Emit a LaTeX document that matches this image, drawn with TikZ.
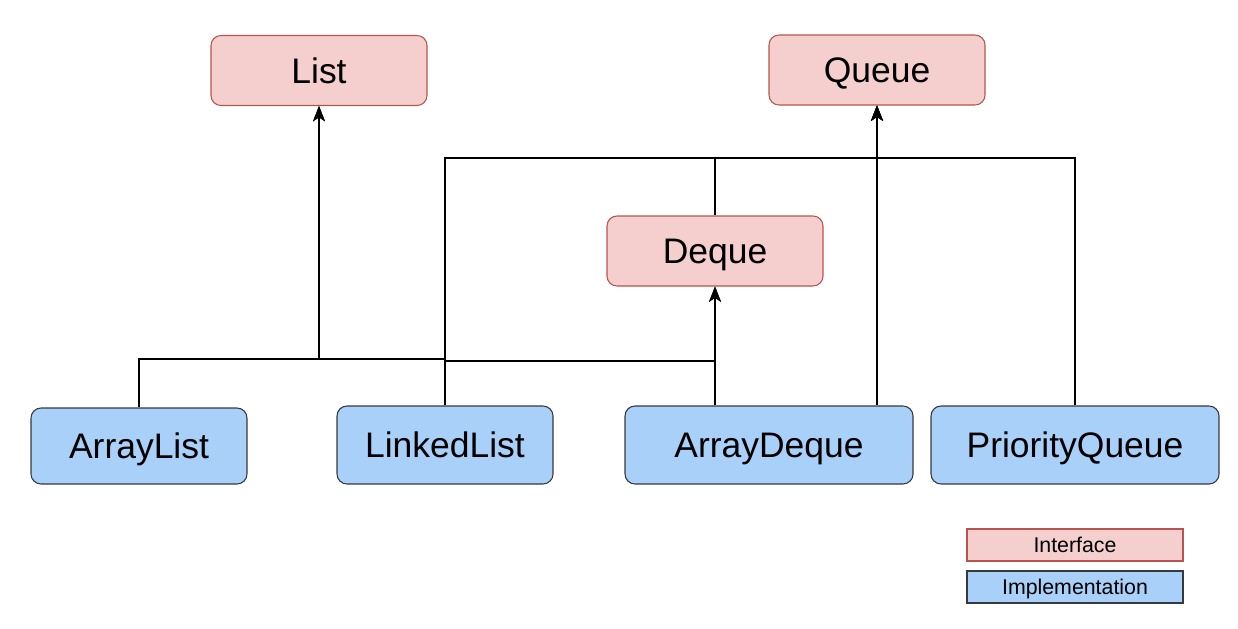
\documentclass[tikz,border=0pt]{standalone}
\usepackage{fontspec}
\setmainfont{Liberation Sans}
\usetikzlibrary{
    arrows.meta,
    positioning,
    calc
}
\definecolor{ifill}{HTML}{F4CFCD}
\definecolor{idraw}{HTML}{B85450}
\definecolor{cfill}{HTML}{A9D0F8}
\definecolor{cdraw}{HTML}{36393D}

\begin{document}
\begin{tikzpicture}[
    x=0.75pt, y=-0.75pt,
    >={Stealth[length=11.5pt, width=9pt, inset=3pt]},
    iface/.style={rectangle, rounded corners=7.5pt, draw=idraw, fill=ifill,
                  line width=0.8pt, inner sep=0pt,
                  minimum width=162pt, minimum height=52.5pt,
                  text height=19pt, text depth=0pt,
                  font=\fontsize{26.6}{30}\selectfont},
    impl/.style={iface, draw=cdraw, fill=cfill, minimum height=58.5pt},
    wide/.style={minimum width=216pt},
    legend/.style={rectangle, line width=0.8pt, inner sep=0pt,
                   minimum width=162pt, minimum height=24pt,
                   text height=11.5pt, text depth=0pt,
                   font=\fontsize{16}{19}\selectfont},
    link/.style={->, line width=1pt}
]
\useasboundingbox (0,0) rectangle (1238,628);

% =========================
% 1) INTERFACES
% =========================
\node[iface] (List)  at (319,70.5) {List};
\node[iface] (Queue) at (877,70)   {Queue};
\node[iface] (Deque) at (715,251)  {Deque};

% =========================
% 2) IMPLEMENTATIONS
% =========================
\node[impl, minimum height=57pt] (ArrayList) at (139,446) {ArrayList};
\node[impl] (LinkedList)          at (445,445)  {LinkedList};
\node[impl, wide] (ArrayDeque)    at (769,445)  {ArrayDeque};
\node[impl, wide] (PriorityQueue) at (1075,445) {PriorityQueue};

% bus heights
\coordinate (busL) at (0,359);
\coordinate (busD) at (0,361);
\coordinate (busQ) at (0,158);

% =========================
% 3) CONNECTORS
% =========================
\draw[link] (ArrayList.north) -- (ArrayList.north |- busL) -| (List.south);
\draw[link] (LinkedList.north) -- (LinkedList.north |- busL) -| (List.south);
\draw[link] (LinkedList.north) -- (LinkedList.north |- busD) -| (Deque.south);
\draw[link] (Deque.south |- ArrayDeque.north) -- (Deque.south);

\draw[link] (LinkedList.north) -- (LinkedList.north |- busQ) -| (Queue.south);
\draw[link] (Deque.north) -- (Deque.north |- busQ) -| (Queue.south);
\draw[link] (Queue.south |- ArrayDeque.north) -- (Queue.south);
\draw[link] (PriorityQueue.north) -- (PriorityQueue.north |- busQ) -| (Queue.south);

% =========================
% 4) LEGEND
% =========================
\node[legend, draw=idraw, fill=ifill] (LegIface) at (1075,545) {Interface};
\node[legend, draw=cdraw, fill=cfill] (LegImpl)  at (1075,587) {Implementation};

\end{tikzpicture}
\end{document}
